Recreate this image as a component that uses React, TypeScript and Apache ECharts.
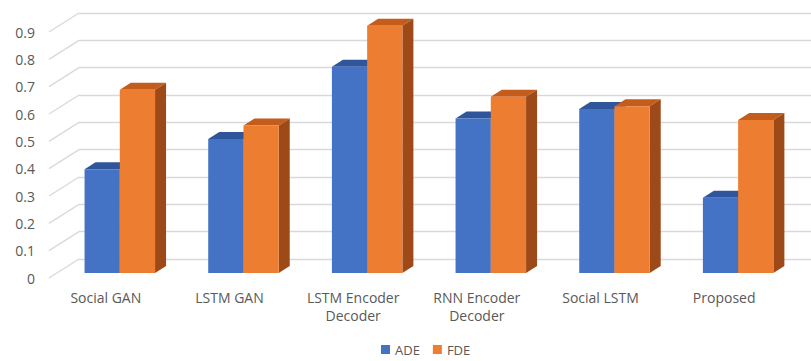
import React, { useEffect, useRef } from "react";
import * as echarts from "echarts";

const categories = [
  "Social GAN",
  "LSTM GAN",
  "LSTM Encoder\nDecoder",
  "RNN Encoder\nDecoder",
  "Social LSTM",
  "Proposed",
];
const adeValues = [0.38, 0.49, 0.755, 0.565, 0.6, 0.275];
const fdeValues = [0.67, 0.54, 0.905, 0.645, 0.61, 0.56];
const yTicks = [0, 0.1, 0.2, 0.3, 0.4, 0.5, 0.6, 0.7, 0.8, 0.9];

const FONT = "'Open Sans', 'Liberation Sans', Arial, sans-serif";
const GRID_COLOR = "#d9d9d9";

const DEPTH_X = 11;
const DEPTH_Y = -7;

function makeBarRenderer(side: number, front: string, top: string, sideColor: string) {
  return (params: any, api: any) => {
    const band = api.size([1, 0])[0];
    const p = api.coord([api.value(0), api.value(1)]);
    const p0 = api.coord([api.value(0), 0]);
    const w = band * 0.285;
    const shiftX = band * 0.113;
    const shiftY = -5;
    const xL = p[0] + shiftX + (side === 0 ? -w : 0);
    const xR = xL + w;
    const yTop = p[1] + shiftY;
    const yBot = p0[1] + shiftY;
    return {
      type: "group",
      children: [
        {
          type: "polygon",
          shape: { points: [[xL, yTop], [xL + DEPTH_X, yTop + DEPTH_Y], [xR + DEPTH_X, yTop + DEPTH_Y], [xR, yTop]] },
          style: { fill: top },
        },
        {
          type: "polygon",
          shape: { points: [[xR, yTop], [xR + DEPTH_X, yTop + DEPTH_Y], [xR + DEPTH_X, yBot + DEPTH_Y], [xR, yBot]] },
          style: { fill: sideColor },
        },
        {
          type: "rect",
          shape: { x: xL, y: yTop, width: w, height: yBot - yTop },
          style: { fill: front },
        },
      ],
    };
  };
}

export default function App() {
  const ref = useRef<HTMLDivElement>(null);
  useEffect(() => {
    if (!ref.current) return;
    const chart = echarts.init(ref.current, null, { renderer: "svg" });
    chart.setOption({
      animation: false,
      backgroundColor: "#ffffff",
      textStyle: { fontFamily: FONT },
      legend: {
        data: ["ADE", "FDE"],
        bottom: 0,
        left: 376,
        icon: "rect",
        itemWidth: 9,
        itemHeight: 9,
        itemGap: 13,
        textStyle: { color: "#595959", fontSize: 13, fontFamily: FONT },
      },
      grid: [
        { left: 79, right: 0, top: 13, bottom: 102 },
        { left: 44, right: 25, top: 32, bottom: 83 },
      ],
      xAxis: [
        { gridIndex: 0, type: "value", min: 0, max: 1, show: false },
        {
          gridIndex: 1,
          type: "category",
          data: categories,
          axisLine: { show: false },
          axisTick: { show: false },
          axisLabel: {
            color: "#595959",
            fontSize: 14,
            lineHeight: 18,
            margin: 10,
            interval: 0,
            fontFamily: FONT,
          },
        },
      ],
      yAxis: [
        {
          gridIndex: 0,
          type: "value",
          min: 0,
          max: 0.9,
          interval: 0.1,
          axisLabel: { show: false },
          axisLine: { show: false },
          axisTick: { show: false },
          splitLine: { lineStyle: { color: GRID_COLOR, width: 1.3 } },
        },
        {
          gridIndex: 1,
          type: "value",
          min: 0,
          max: 0.9,
          interval: 0.1,
          axisLine: { show: false },
          axisTick: { show: false },
          splitLine: { show: false },
          axisLabel: {
            color: "#595959",
            fontSize: 14,
            margin: 9,
            fontFamily: FONT,
            formatter: (v: number) => String(Math.round(v * 10) / 10),
          },
        },
      ],
      series: [
        {
          name: "diagonals",
          type: "custom",
          xAxisIndex: 0,
          yAxisIndex: 0,
          silent: true,
          data: yTicks.map((v) => [0, v]),
          renderItem: (params: any, api: any) => {
            const p = api.coord([0, api.value(1)]);
            return {
              type: "line",
              shape: { x1: p[0] - 30, y1: p[1] + 19, x2: p[0], y2: p[1] },
              style: { stroke: GRID_COLOR, lineWidth: 1.3 },
            };
          },
          z: 1,
        },
        {
          name: "ADE",
          type: "custom",
          xAxisIndex: 1,
          yAxisIndex: 1,
          itemStyle: { color: "#4472C4" },
          data: adeValues.map((v, i) => [i, v]),
          renderItem: makeBarRenderer(0, "#4472C4", "#2F559A", "#2F559A"),
          z: 2,
        },
        {
          name: "FDE",
          type: "custom",
          xAxisIndex: 1,
          yAxisIndex: 1,
          itemStyle: { color: "#ED7D31" },
          data: fdeValues.map((v, i) => [i, v]),
          renderItem: makeBarRenderer(1, "#ED7D31", "#C45C1C", "#9E4A18"),
          z: 3,
        },
      ],
    });
    return () => chart.dispose();
  }, []);
  return <div ref={ref} style={{ width: 811, height: 361, position: "absolute", left: 0, top: 0 }} />;
}
